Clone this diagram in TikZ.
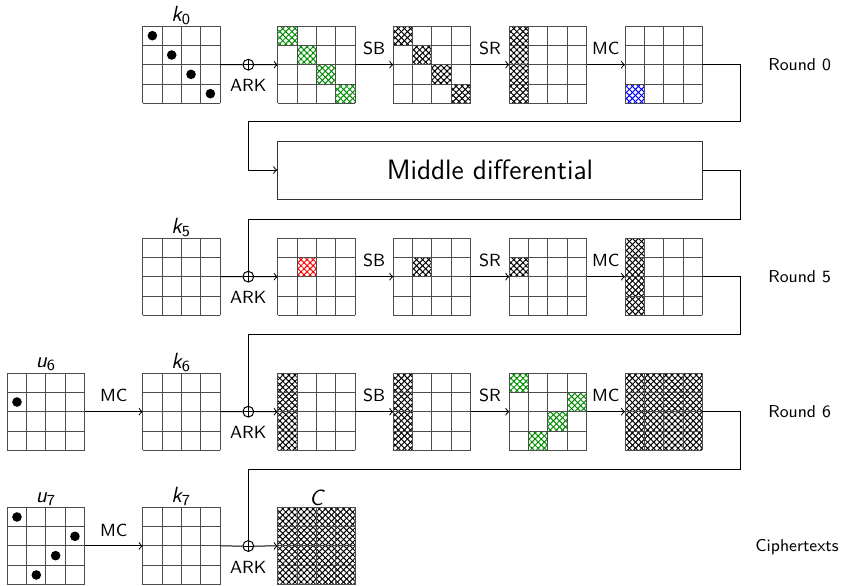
\documentclass[tikz,border=0pt]{standalone}
\usetikzlibrary{patterns.meta}
\tikzset{
  cellline/.style={draw=black!70, line width=0.5pt},
  gridnode/.style={minimum size=38.667pt, inner sep=0pt, outer sep=0pt},
  conn/.style={draw=black, line width=0.5pt},
  arr/.style={conn, ->},
  xor/.style={circle, draw, line width=0.5pt, minimum size=5.4pt, inner sep=0pt,
    path picture={\draw[line width=0.5pt] (path picture bounding box.north) -- (path picture bounding box.south)
      (path picture bounding box.west) -- (path picture bounding box.east);}},
  oplab/.style={font=\sffamily\fontsize{8.8}{10}\selectfont, anchor=base, inner sep=0pt},
  roundlab/.style={font=\sffamily\fontsize{8.6}{10}\selectfont, anchor=base west, inner sep=0pt},
  gridlab/.style={font=\sffamily\itshape\fontsize{11}{12}\selectfont, anchor=base, inner sep=0pt},
  midbox/.style={draw=black!80, line width=0.5pt, minimum width=212.3pt, minimum height=29pt,
    inner sep=0pt, font=\sffamily\fontsize{14}{16}\selectfont},
}
% hatch: x y col row ncols nrows colour
\newcommand\hb[7]{%
  \fill[pattern={Lines[angle=45, distance=2.15pt, line width=0.5pt]}, pattern color=#7] ({#1+#3*19.333},{#2+#4*19.333}) rectangle ++({#5*19.333},{#6*19.333});
  \fill[pattern={Lines[angle=-45, distance=2.15pt, line width=0.5pt]}, pattern color=#7] ({#1+#3*19.333},{#2+#4*19.333}) rectangle ++({#5*19.333},{#6*19.333});}
% grid lines and node: name x y
\newcommand\gridat[3]{%
  \node[gridnode] (#1) at ({#2+38.667},{#3+38.667}) {};
  \foreach \i in {0,...,4}{
    \draw[cellline] ({#2+\i*19.333},#3) -- ++(0,77.333);
    \draw[cellline] (#2,{#3+\i*19.333}) -- ++(77.333,0);
  }}
% dot: x y col row
\newcommand\dt[4]{\fill ({#1+#3*19.333+9.667},{#2+#4*19.333+9.667}) circle[radius=2.4pt];}
\newcommand\lab[2]{#1{\upshape\textsubscript{#2}}}
\begin{document}
\begin{tikzpicture}[x=0.5pt, y=-0.5pt]
\useasboundingbox (0,0) rectangle (845,585);
% ---------- Round 0 (y=26) ----------
\hb{277.7}{26}{0}{0}{1}{1}{green!55!black}
\hb{277.7}{26}{1}{1}{1}{1}{green!55!black}
\hb{277.7}{26}{2}{2}{1}{1}{green!55!black}
\hb{277.7}{26}{3}{3}{1}{1}{green!55!black}
\hb{393.3}{26}{0}{0}{1}{1}{black}
\hb{393.3}{26}{1}{1}{1}{1}{black}
\hb{393.3}{26}{2}{2}{1}{1}{black}
\hb{393.3}{26}{3}{3}{1}{1}{black}
\hb{509.3}{26}{0}{0}{1}{4}{black}
\hb{625}{26}{0}{3}{1}{1}{blue}
\gridat{r0a}{142.7}{26}
\gridat{r0b}{277.7}{26}
\gridat{r0c}{393.3}{26}
\gridat{r0d}{509.3}{26}
\gridat{r0e}{625}{26}
\dt{142.7}{26}{0}{0}
\dt{142.7}{26}{1}{1}
\dt{142.7}{26}{2}{2}
\dt{142.7}{26}{3}{3}
\node[gridlab] at (181.3,21) {\lab{k}{0}};
% ---------- Round 5 (y=238) ----------
\hb{277.7}{238}{1}{1}{1}{1}{red}
\hb{393.3}{238}{1}{1}{1}{1}{black}
\hb{509.3}{238}{0}{1}{1}{1}{black}
\hb{625}{238}{0}{0}{1}{4}{black}
\gridat{r5a}{142.7}{238}
\gridat{r5b}{277.7}{238}
\gridat{r5c}{393.3}{238}
\gridat{r5d}{509.3}{238}
\gridat{r5e}{625}{238}
\node[gridlab] at (181.3,233.3) {\lab{k}{5}};
% ---------- Round 6 (y=373) ----------
\hb{277.7}{373}{0}{0}{1}{4}{black}
\hb{393.3}{373}{0}{0}{1}{4}{black}
\hb{509.3}{373}{0}{0}{1}{1}{green!55!black}
\hb{509.3}{373}{3}{1}{1}{1}{green!55!black}
\hb{509.3}{373}{2}{2}{1}{1}{green!55!black}
\hb{509.3}{373}{1}{3}{1}{1}{green!55!black}
\hb{625}{373}{0}{0}{4}{4}{black}
\gridat{r6u}{7.3}{373}
\gridat{r6a}{142.7}{373}
\gridat{r6b}{277.7}{373}
\gridat{r6c}{393.3}{373}
\gridat{r6d}{509.3}{373}
\gridat{r6e}{625}{373}
\dt{7.3}{373}{0}{1}
\node[gridlab] at (46,367.5) {\lab{u}{6}};
\node[gridlab] at (181.3,368.3) {\lab{k}{6}};
% ---------- Row 7 (y=507.3) ----------
\hb{277.7}{507.3}{0}{0}{4}{4}{black}
\gridat{r7u}{7.3}{507.3}
\gridat{r7a}{142.7}{507.3}
\gridat{r7b}{277.7}{507.3}
\dt{7.3}{507.3}{0}{0}
\dt{7.3}{507.3}{3}{1}
\dt{7.3}{507.3}{2}{2}
\dt{7.3}{507.3}{1}{3}
\node[gridlab] at (46,502) {\lab{u}{7}};
\node[gridlab] at (181.3,502.5) {\lab{k}{7}};
\node[gridlab] at (316.3,505) {C};
% ---------- XOR nodes ----------
\node[xor] (x0) at (248.3,64.67) {};
\node[xor] (x5) at (248.3,276.67) {};
\node[xor] (x6) at (248.3,411.67) {};
\node[xor] (x7) at (248.3,546) {};
% ---------- Middle differential ----------
\node[midbox] (mid) at (490,170) {Middle differential};
% ---------- bend coordinates ----------
\coordinate (b0a) at (740,121.7);
\coordinate (b0b) at (248.3,121.7);
\coordinate (b1a) at (740,219.3);
\coordinate (b1b) at (248.3,219.3);
\coordinate (b5a) at (740,334);
\coordinate (b5b) at (248.3,334);
\coordinate (b6a) at (740,469);
\coordinate (b6b) at (248.3,469);
% ---------- connectors Round 0 ----------
\draw[conn] (r0a.east) -- (x0.west);
\draw[arr] (x0.east) -- (r0b.west);
\draw[arr] (r0b.east) -- (r0c.west);
\draw[arr] (r0c.east) -- (r0d.west);
\draw[arr] (r0d.east) -- (r0e.west);
\draw[arr] (r0e.east) -| (b0a) -- (b0b) |- (mid.west);
\draw[conn] (mid.east) -| (b1a) -- (b1b) -- (x5.north);
% ---------- connectors Round 5 ----------
\draw[conn] (r5a.east) -- (x5.west);
\draw[arr] (x5.east) -- (r5b.west);
\draw[arr] (r5b.east) -- (r5c.west);
\draw[arr] (r5c.east) -- (r5d.west);
\draw[arr] (r5d.east) -- (r5e.west);
\draw[conn] (r5e.east) -| (b5a) -- (b5b) -- (x6.north);
% ---------- connectors Round 6 ----------
\draw[arr] (r6u.east) -- (r6a.west);
\draw[conn] (r6a.east) -- (x6.west);
\draw[arr] (x6.east) -- (r6b.west);
\draw[arr] (r6b.east) -- (r6c.west);
\draw[arr] (r6c.east) -- (r6d.west);
\draw[arr] (r6d.east) -- (r6e.west);
\draw[conn] (r6e.east) -| (b6a) -- (b6b) -- (x7.north);
% ---------- connectors Row 7 ----------
\draw[arr] (r7u.east) -- (r7a.west);
\draw[conn] (r7a.east) -- (x7.west);
\draw[arr] (x7.east) -- (r7b.west);
% ---------- operation labels ----------
\foreach \y in {64.67,276.67,411.67,546} {\node[oplab] at (248.3,\y+27) {ARK};}
\foreach \y in {64.67,276.67,411.67} {
  \node[oplab] at (374.2,\y-10) {SB};
  \node[oplab] at (490,\y-10) {SR};
  \node[oplab] at (605.8,\y-10) {MC};
}
\node[oplab] at (113.8,401.67) {MC};
\node[oplab] at (113.8,536) {MC};
% ---------- round labels ----------
\node[roundlab] at (768,70.3) {Round 0};
\node[roundlab] at (768,282.3) {Round 5};
\node[roundlab] at (768,417.3) {Round 6};
\node[roundlab] at (755,551) {Ciphertexts};
\end{tikzpicture}
\end{document}
